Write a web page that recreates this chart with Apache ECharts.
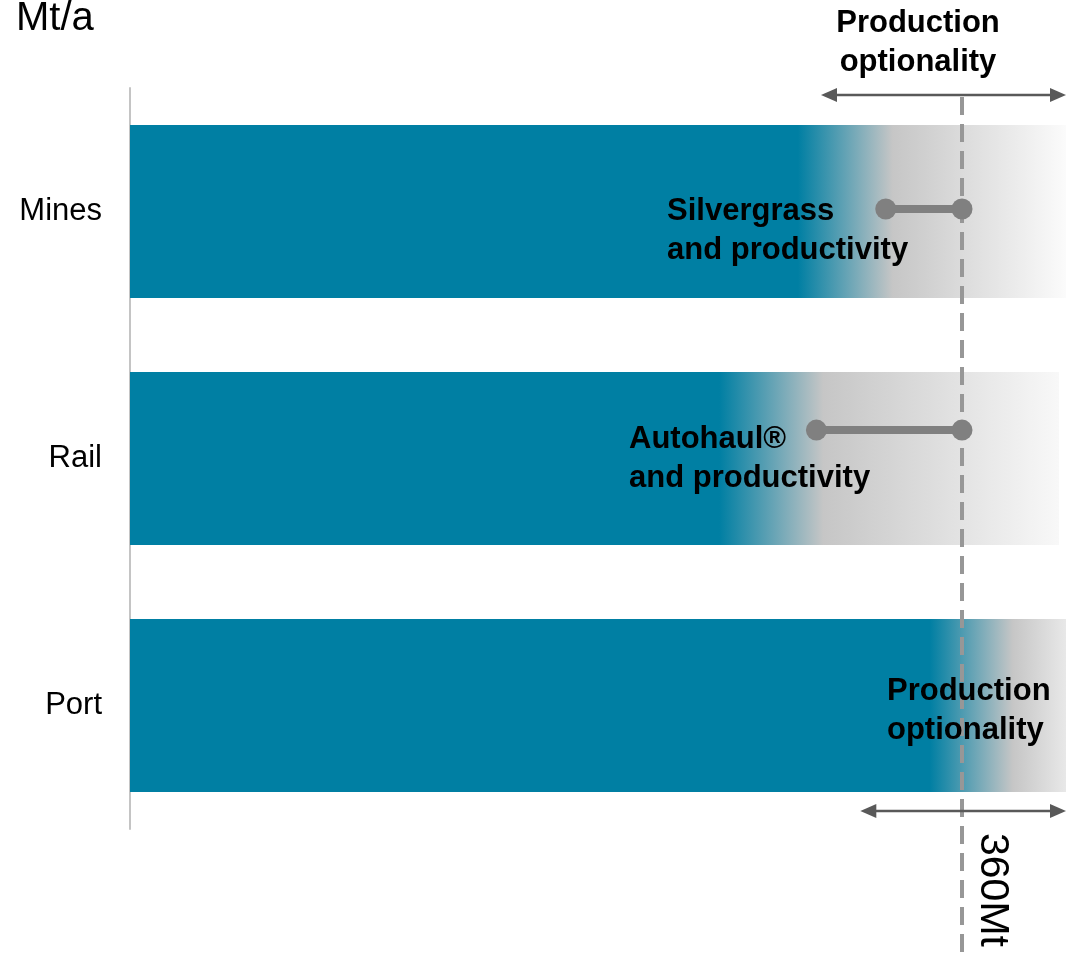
<!DOCTYPE html>
<html>
<head>
<meta charset="utf-8">
<script src="https://cdn.jsdelivr.net/npm/echarts@6/dist/echarts.min.js"></script>
<style>
  html, body { margin: 0; padding: 0; background: #fff; }
  #chart { width: 1066px; height: 956px; }
</style>
</head>
<body>
<div id="chart"></div>
<script>
// capacity per stage, Mt/a
const categories = ['Mines', 'Rail', 'Port'];
const solidEnd = [289, 255, 346];   // where the solid teal stops
const fadeEnd = [330, 300, 382];    // where teal has faded into grey
const barEnd = [405, 402, 405];     // end of the grey tail
const capacity = 360;               // 360Mt marker
const xMax = 405;

// upgrades shown as dumbbells
const upgradeNames = ['Silvergrass\nand productivity', 'Autohaul®\nand productivity'];
const upgradeFrom = [327, 297];
const upgradeTo = [360, 360];
const upgradeRow = [0.49, 1.385];   // position on hidden 0..3 row axis

// production optionality ranges (arrows)
const topRange = [299, 405];
const bottomRange = [316, 405];

const TEAL = '#007fa3';
const GREY = '#c6c6c6';
const tailEndColors = ['#fbfbfb', '#f8f8f8', '#e8e8e8'];
const FONT = "'Liberation Sans', Arial, Helvetica, sans-serif";

const chart = echarts.init(document.getElementById('chart'));

// one bar per stage, teal -> grey -> near white
function barFill(i) {
  return new echarts.graphic.LinearGradient(0, 0, 1, 0, [
    { offset: 0, color: TEAL },
    { offset: solidEnd[i] / barEnd[i], color: TEAL },
    { offset: fadeEnd[i] / barEnd[i], color: GREY },
    { offset: 1, color: tailEndColors[i] }
  ]);
}

const option = {
  animation: false,
  grid: { left: 130, right: 0, top: 88, bottom: 127, containLabel: false },
  xAxis: { type: 'value', min: 0, max: xMax, show: false },
  yAxis: [
    {
      type: 'category',
      data: categories,
      inverse: true,
      axisLine: { lineStyle: { color: '#c4c4c4', width: 2 } },
      axisTick: { show: false },
      axisLabel: { fontSize: 31, color: '#000', margin: 28, fontFamily: FONT, padding: [3, 0, 0, 0] }
    },
    { type: 'value', min: 0, max: 3, inverse: true, show: false }
  ],
  series: [
    {
      type: 'bar',
      name: 'capacity',
      barWidth: 173,
      silent: true,
      data: barEnd.map((v, i) => ({ value: v, itemStyle: { color: barFill(i) } }))
    },
    ...upgradeFrom.map((v, i) => ({
      type: 'line',
      name: upgradeNames[i],
      yAxisIndex: 1,
      z: 5,
      silent: true,
      data: [[v, upgradeRow[i]], [upgradeTo[i], upgradeRow[i]]],
      symbol: 'circle',
      symbolSize: 21,
      lineStyle: { color: '#808080', width: 8 },
      itemStyle: { color: '#808080' }
    }))
  ]
};

chart.setOption(option);

// annotations placed through the chart's own scales
const px = v => chart.convertToPixel({ xAxisIndex: 0 }, v);

function arrow(x1, x2, y) {
  const c = '#595959';
  return [
    { type: 'line', z: 4, shape: { x1: x1 + 10, y1: y, x2: x2 - 10, y2: y }, style: { stroke: c, lineWidth: 2.5 } },
    { type: 'polygon', z: 4, shape: { points: [[x1, y], [x1 + 16, y - 7], [x1 + 16, y + 7]] }, style: { fill: c } },
    { type: 'polygon', z: 4, shape: { points: [[x2, y], [x2 - 16, y - 7], [x2 - 16, y + 7]] }, style: { fill: c } }
  ];
}

function label(text, x, y, size, bold, align) {
  return {
    type: 'text', x: x, y: y, z: 10,
    style: {
      text: text,
      font: (bold ? 'bold ' : '') + size + 'px ' + FONT,
      fill: '#000',
      align: align || 'left', textAlign: align || 'left',
      verticalAlign: 'middle', textVerticalAlign: 'middle',
      lineHeight: 39
    }
  };
}

const capX = px(capacity);

chart.setOption({
  graphic: [
    {
      type: 'line', z: 3,
      shape: { x1: capX, y1: 97, x2: capX, y2: 956 },
      style: { stroke: '#979797', lineWidth: 4, lineDash: [18, 9] }
    },
    ...arrow(px(topRange[0]), px(topRange[1]), 95),
    ...arrow(px(bottomRange[0]), px(bottomRange[1]), 811),
    label('Mt/a', 16, 19, 40, false),
    label('Production\noptionality', 918, 43, 31, true, 'center'),
    label(upgradeNames[0], 667, 231, 31, true),
    label(upgradeNames[1], 629, 459, 31, true),
    label('Production\noptionality', 887, 711, 31, true),
    {
      type: 'text', x: capX + 30, y: 833, z: 10, rotation: -Math.PI / 2,
      style: {
        text: capacity + 'Mt', font: '41px ' + FONT, fill: '#000',
        align: 'left', textAlign: 'left', verticalAlign: 'middle', textVerticalAlign: 'middle'
      }
    }
  ]
});
</script>
</body>
</html>
